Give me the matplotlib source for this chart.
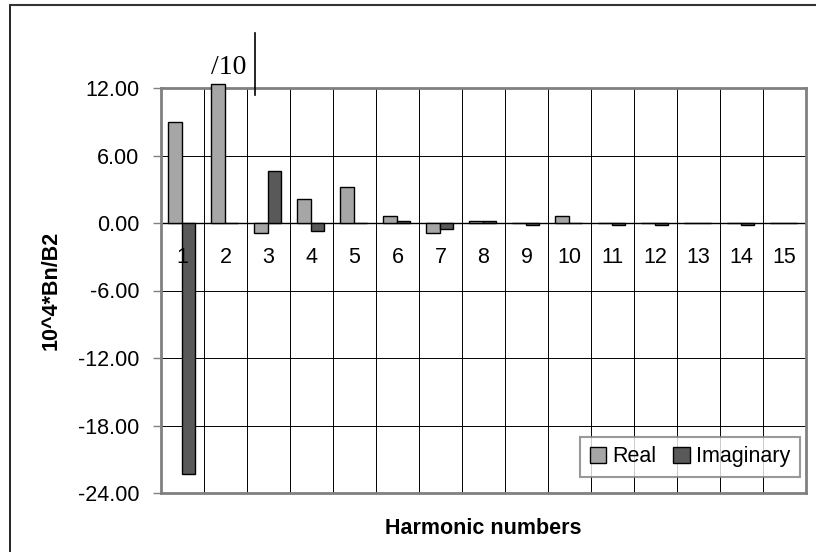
import matplotlib
matplotlib.use("Agg")
import matplotlib.pyplot as plt
import numpy as np
from matplotlib.patches import Patch
from matplotlib.lines import Line2D

plt.rcParams['font.family'] = ['Liberation Sans', 'DejaVu Sans']

harmonics = [str(i) for i in range(1, 16)]
real_vals = [8.98, 12.33, -0.85, 2.13, 3.17, 0.62, -0.89, 0.18, 0.0, 0.62, 0.0, 0.0, 0.0, 0.0, 0.0]
imag_vals = [-22.28, 0.0, 4.66, -0.71, 0.0, 0.18, -0.56, 0.18, -0.22, 0.0, -0.22, -0.22, 0.0, -0.22, 0.0]
yticks = [12, 6, 0, -6, -12, -18, -24]

FS = 15.5
W, H = 816, 552
fig = plt.figure(figsize=(W / 100, H / 100), dpi=100)
L, R, T, B = 161, 806, 88, 493
ax = fig.add_axes([L / W, 1 - B / H, (R - L) / W, (B - T) / H])

x = np.arange(len(harmonics))
bw = 0.31
ax.bar(x - bw / 2 - 0.02, real_vals, bw, color='#A6A6A6', edgecolor='black', linewidth=1.0,
       label='Real', zorder=3, clip_on=False)
ax.bar(x + bw / 2 - 0.02, imag_vals, bw, color='#595959', edgecolor='black', linewidth=1.0,
       label='Imaginary', zorder=3, clip_on=False)

ax.set_xlim(-0.5, len(harmonics) - 0.5)
ax.set_ylim(-24, 12)
ax.set_yticks(yticks)
ax.set_yticklabels([f"{v:.2f}" for v in yticks], fontsize=FS)
ax.tick_params(axis='y', length=5.8, width=1, color='#808080', pad=10)
ax.set_xticks(x[:-1] + 0.5)
ax.tick_params(axis='x', length=0, labelbottom=False)
ax.grid(True, axis='both', color='black', linewidth=0.7, zorder=1)
ax.axhline(0, color='black', linewidth=1.0, zorder=2)

for s in ax.spines.values():
    s.set_color('#808080')
    s.set_linewidth(2)

for i, lab in enumerate(harmonics):
    ax.annotate(lab, (x[i], 0), xytext=(0, -24.5), textcoords='offset points',
                ha='center', va='center', fontsize=FS, zorder=4)

ax.set_ylabel('10^4*Bn/B2', fontsize=FS, fontweight='bold')
ax.yaxis.set_label_coords((62 - L) / (R - L), 0.5)
fig.text((L + R) / 2 / W, 1 - 529 / H, 'Harmonic numbers', fontsize=FS, fontweight='bold',
         ha='center', va='center')

handles = [Patch(facecolor='#A6A6A6', edgecolor='black', label='Real'),
           Patch(facecolor='#595959', edgecolor='black', label='Imaginary')]
leg = ax.legend(handles=handles, loc='lower right', bbox_to_anchor=((800 - L) / (R - L), (B - 477) / (B - T)),
                ncol=2, fontsize=FS, frameon=True, fancybox=False, handlelength=0.75,
                handleheight=0.75, handletextpad=0.3, columnspacing=0.8, borderpad=0.45,
                borderaxespad=0)
leg.get_frame().set_edgecolor('#808080')
leg.get_frame().set_linewidth(1.5)
leg.set_zorder(5)

fig.text(229 / W, 1 - 68 / H, '/10', family=['Liberation Serif', 'DejaVu Serif'], fontsize=20,
         ha='center', va='center')
fig.add_artist(Line2D([255 / W, 255 / W], [1 - 33 / H, 1 - 95 / H], color='black', linewidth=1.2))

fig.add_artist(Line2D([10 / W, 10 / W], [0, 1 - 5 / H], color='black', linewidth=1.2))
fig.add_artist(Line2D([10 / W, 1], [1 - 5 / H, 1 - 5 / H], color='#333333', linewidth=1.5))

fig.savefig('out.png', dpi=100)
